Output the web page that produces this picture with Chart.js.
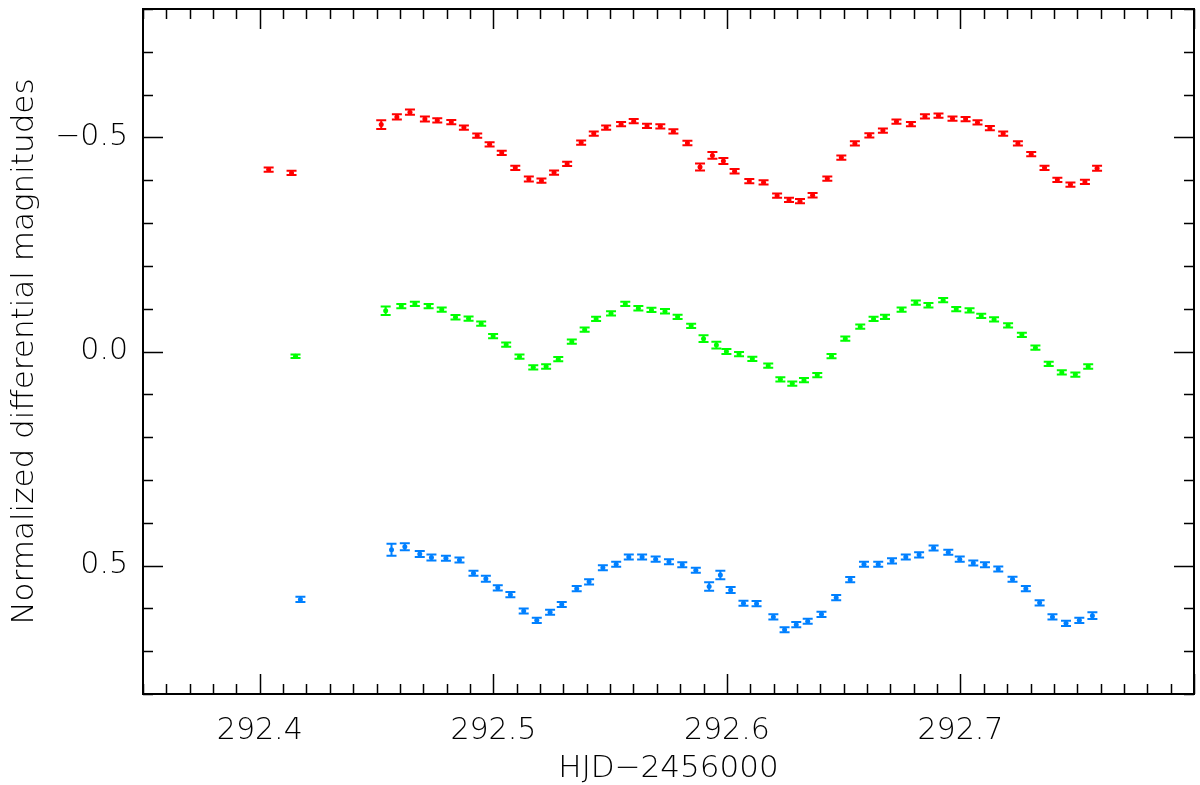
<!DOCTYPE html>
<html>
<head>
<meta charset="utf-8">
<script src="https://cdn.jsdelivr.net/npm/chart.js@4.4.1/dist/chart.umd.min.js"></script>
<style>
  html, body { margin: 0; padding: 0; background: #fff; }
  #wrap { width: 1200px; height: 785px; }
</style>
</head>
<body>
<div id="wrap"><canvas id="canvas1" width="1200" height="785"></canvas></div>
<script>
// data (HJD-2456000, normalized diff. magnitude, error)
const redX = [292.4038, 292.4136, 292.4520, 292.4587, 292.4643, 292.4707, 292.4760, 292.4820, 292.4874, 292.4931,
  292.4984, 292.5036, 292.5094, 292.5152, 292.5206, 292.5260, 292.5316, 292.5376, 292.5430, 292.5483,
  292.5547, 292.5601, 292.5658, 292.5715, 292.5771, 292.5831, 292.5885, 292.5938, 292.5985, 292.6033,
  292.6096, 292.6157, 292.6215, 292.6266, 292.6313, 292.6367, 292.6430, 292.6490, 292.6548, 292.6610,
  292.6668, 292.6726, 292.6788, 292.6848, 292.6906, 292.6966, 292.7022, 292.7073, 292.7126, 292.7183,
  292.7246, 292.7303, 292.7360, 292.7415, 292.7471, 292.7533, 292.7585];
const redY = [-0.425, -0.417, -0.530, -0.548, -0.559, -0.543, -0.540, -0.536, -0.523, -0.504,
  -0.484, -0.464, -0.429, -0.403, -0.399, -0.418, -0.438, -0.488, -0.509, -0.523,
  -0.531, -0.538, -0.527, -0.526, -0.514, -0.487, -0.431, -0.458, -0.445, -0.421,
  -0.398, -0.395, -0.364, -0.354, -0.351, -0.365, -0.404, -0.453, -0.486, -0.505,
  -0.516, -0.537, -0.531, -0.549, -0.551, -0.544, -0.543, -0.535, -0.522, -0.509,
  -0.486, -0.461, -0.429, -0.401, -0.390, -0.396, -0.428];
const redErr = [0.005, 0.005, 0.010, 0.006, 0.006, 0.006, 0.005, 0.005, 0.005, 0.005,
  0.005, 0.005, 0.005, 0.006, 0.005, 0.005, 0.005, 0.005, 0.005, 0.005,
  0.005, 0.005, 0.005, 0.005, 0.005, 0.005, 0.008, 0.008, 0.007, 0.005,
  0.005, 0.005, 0.005, 0.005, 0.005, 0.005, 0.005, 0.005, 0.005, 0.005,
  0.005, 0.005, 0.005, 0.005, 0.005, 0.005, 0.005, 0.005, 0.005, 0.005,
  0.005, 0.005, 0.005, 0.005, 0.005, 0.005, 0.006];

const greenX = [292.4153, 292.4539, 292.4606, 292.4664, 292.4723, 292.4779, 292.4838, 292.4894, 292.4948, 292.4999,
  292.5055, 292.5112, 292.5171, 292.5226, 292.5278, 292.5336, 292.5391, 292.5440, 292.5504, 292.5565,
  292.5621, 292.5677, 292.5735, 292.5789, 292.5847, 292.5900, 292.5955, 292.5998, 292.6052, 292.6109,
  292.6177, 292.6229, 292.6280, 292.6330, 292.6387, 292.6448, 292.6507, 292.6571, 292.6628, 292.6677,
  292.6748, 292.6809, 292.6863, 292.6926, 292.6982, 292.7039, 292.7089, 292.7144, 292.7204, 292.7263,
  292.7321, 292.7378, 292.7434, 292.7492, 292.7547];
const greenY = [0.011, -0.095, -0.106, -0.111, -0.106, -0.098, -0.080, -0.077, -0.065, -0.036,
  -0.016, 0.012, 0.037, 0.035, 0.018, -0.023, -0.051, -0.076, -0.089, -0.111,
  -0.101, -0.097, -0.094, -0.081, -0.060, -0.030, -0.015, 0.000, 0.006, 0.017,
  0.033, 0.065, 0.075, 0.067, 0.055, 0.011, -0.030, -0.058, -0.076, -0.081,
  -0.098, -0.114, -0.108, -0.120, -0.099, -0.096, -0.083, -0.075, -0.061, -0.039,
  -0.009, 0.029, 0.049, 0.054, 0.035];
const greenErr = [0.004, 0.010, 0.005, 0.005, 0.005, 0.005, 0.005, 0.005, 0.005, 0.005,
  0.005, 0.005, 0.005, 0.005, 0.005, 0.005, 0.005, 0.005, 0.005, 0.005,
  0.005, 0.005, 0.005, 0.005, 0.005, 0.008, 0.008, 0.006, 0.005, 0.005,
  0.005, 0.005, 0.005, 0.005, 0.005, 0.005, 0.005, 0.005, 0.005, 0.005,
  0.005, 0.005, 0.005, 0.005, 0.005, 0.005, 0.005, 0.005, 0.005, 0.005,
  0.005, 0.005, 0.005, 0.005, 0.005];

const blueX = [292.4174, 292.4564, 292.4621, 292.4685, 292.4735, 292.4797, 292.4855, 292.4915, 292.4968, 292.5019,
  292.5073, 292.5130, 292.5186, 292.5243, 292.5293, 292.5357, 292.5410, 292.5469, 292.5526, 292.5580,
  292.5637, 292.5695, 292.5752, 292.5809, 292.5867, 292.5924, 292.5972, 292.6016, 292.6071, 292.6127,
  292.6199, 292.6247, 292.6297, 292.6346, 292.6405, 292.6468, 292.6528, 292.6587, 292.6648, 292.6707,
  292.6766, 292.6823, 292.6885, 292.6948, 292.6997, 292.7055, 292.7105, 292.7162, 292.7223, 292.7280,
  292.7339, 292.7394, 292.7452, 292.7509, 292.7565];
const blueY = [0.579, 0.463, 0.456, 0.473, 0.481, 0.483, 0.487, 0.518, 0.531, 0.552,
  0.568, 0.606, 0.628, 0.609, 0.591, 0.554, 0.538, 0.505, 0.497, 0.480,
  0.480, 0.485, 0.491, 0.498, 0.511, 0.549, 0.522, 0.557, 0.588, 0.589,
  0.620, 0.650, 0.638, 0.630, 0.614, 0.575, 0.533, 0.497, 0.497, 0.489,
  0.480, 0.475, 0.459, 0.469, 0.485, 0.494, 0.498, 0.508, 0.532, 0.554,
  0.587, 0.620, 0.635, 0.628, 0.617];
const blueErr = [0.006, 0.014, 0.008, 0.007, 0.007, 0.006, 0.006, 0.006, 0.007, 0.006,
  0.006, 0.006, 0.006, 0.006, 0.006, 0.006, 0.006, 0.006, 0.006, 0.006,
  0.006, 0.006, 0.006, 0.006, 0.006, 0.010, 0.010, 0.007, 0.006, 0.006,
  0.006, 0.006, 0.006, 0.006, 0.006, 0.006, 0.006, 0.006, 0.006, 0.006,
  0.006, 0.006, 0.006, 0.006, 0.006, 0.006, 0.006, 0.006, 0.006, 0.006,
  0.006, 0.006, 0.006, 0.006, 0.008];

const xMajorTicks = [292.4, 292.5, 292.6, 292.7];
const xTickLabels = ['292.4', '292.5', '292.6', '292.7'];
const yMajorTicks = [-0.5, 0, 0.5];
const yTickLabels = ['\u22120.5', '0.0', '0.5'];

const FONT = "'DejaVu Sans', sans-serif";

function toPoints(xs, ys, es) {
  let data = [];
  for (let i = 0; i < xs.length; i++) {
    data.push({x: xs[i], y: ys[i], e: es[i]});
  }
  return data;
}

// vertical error bars with caps
const errorBars = {
  id: 'errorBars',
  afterDatasetsDraw(chart) {
    const ctx = chart.ctx, sx = chart.scales.x, sy = chart.scales.y;
    chart.data.datasets.forEach(ds => {
      ctx.save();
      ctx.strokeStyle = ds.borderColor;
      ctx.lineWidth = 2;
      ds.data.forEach(p => {
        const px = sx.getPixelForValue(p.x);
        const y1 = sy.getPixelForValue(p.y - p.e);
        const y2 = sy.getPixelForValue(p.y + p.e);
        ctx.beginPath();
        ctx.moveTo(px, y1); ctx.lineTo(px, y2);
        ctx.moveTo(px - 5, y1); ctx.lineTo(px + 5, y1);
        ctx.moveTo(px - 5, y2); ctx.lineTo(px + 5, y2);
        ctx.stroke();
      });
      ctx.restore();
    });
  }
};

// box frame with inward ticks on all four sides
const frame = {
  id: 'frame',
  afterDraw(chart) {
    const ctx = chart.ctx, a = chart.chartArea, sx = chart.scales.x, sy = chart.scales.y;
    ctx.save();
    ctx.strokeStyle = '#000';
    ctx.lineWidth = 1.5;
    ctx.beginPath();
    for (let i = 0; i <= 45; i++) {
      const v = 292.35 + i * 0.01;
      const px = Math.round(sx.getPixelForValue(v)) + 0.5;
      const len = (i % 10 === 5) ? 20 : 10;
      ctx.moveTo(px, a.bottom); ctx.lineTo(px, a.bottom - len);
      ctx.moveTo(px, a.top); ctx.lineTo(px, a.top + len);
    }
    for (let i = 0; i <= 16; i++) {
      const v = -0.8 + i * 0.1;
      const py = Math.round(sy.getPixelForValue(v)) + 0.5;
      const len = (i % 5 === 3) ? 20 : 10;
      ctx.moveTo(a.left, py); ctx.lineTo(a.left + len, py);
      ctx.moveTo(a.right, py); ctx.lineTo(a.right - len, py);
    }
    ctx.stroke();
    ctx.lineWidth = 2;
    ctx.strokeRect(a.left, a.top, a.right - a.left, a.bottom - a.top);
    ctx.restore();
  }
};

let canvas1 = document.getElementById('canvas1');

let myChart1 = new Chart(canvas1, {
  type: 'scatter',
  data: {
    datasets: [
      { data: toPoints(redX, redY, redErr), borderColor: '#ff0000', backgroundColor: '#ff0000' },
      { data: toPoints(greenX, greenY, greenErr), borderColor: '#00ff00', backgroundColor: '#00ff00' },
      { data: toPoints(blueX, blueY, blueErr), borderColor: '#0080ff', backgroundColor: '#0080ff' }
    ]
  },
  options: {
    responsive: false,
    animation: false,
    layout: { padding: { top: 9, right: 6, left: 0, bottom: 0 } },
    elements: { point: { radius: 2.5, borderWidth: 0, hoverRadius: 2.5 } },
    plugins: { legend: { display: false }, tooltip: { enabled: false } },
    scales: {
      x: {
        type: 'linear',
        min: 292.35,
        max: 292.80,
        afterBuildTicks: (scale) => { scale.ticks = xMajorTicks.map(v => ({value: v})); },
        afterFit: (scale) => { scale.height = 91; scale.paddingLeft = 0; scale.paddingRight = 0; },
        grid: { display: false, drawTicks: false },
        border: { display: false },
        ticks: {
          color: '#000',
          padding: 19,
          maxRotation: 0,
          autoSkip: false,
          font: { family: FONT, size: 30, weight: 200 },
          callback: (v, i) => xTickLabels[i]
        },
        title: {
          display: true,
          text: 'HJD\u22122456000',
          color: '#000',
          padding: { top: 0, bottom: 0 },
          font: { family: FONT, size: 31, weight: 200, lineHeight: 1.05 }
        }
      },
      y: {
        type: 'linear',
        reverse: true,
        min: -0.8,
        max: 0.8,
        afterBuildTicks: (scale) => { scale.ticks = yMajorTicks.map(v => ({value: v})); },
        afterFit: (scale) => { scale.width = 143; scale.paddingTop = 0; scale.paddingBottom = 0; },
        grid: { display: false, drawTicks: false },
        border: { display: false },
        ticks: {
          color: '#000',
          padding: 15,
          autoSkip: false,
          font: { family: FONT, size: 30, weight: 200 },
          callback: (v, i) => yTickLabels[i]
        },
        title: {
          display: true,
          text: 'Normalized differential magnitudes',
          color: '#000',
          padding: { top: 6, bottom: 0 },
          font: { family: FONT, size: 31, weight: 200 }
        }
      }
    }
  },
  plugins: [errorBars, frame]
});
</script>
</body>
</html>
